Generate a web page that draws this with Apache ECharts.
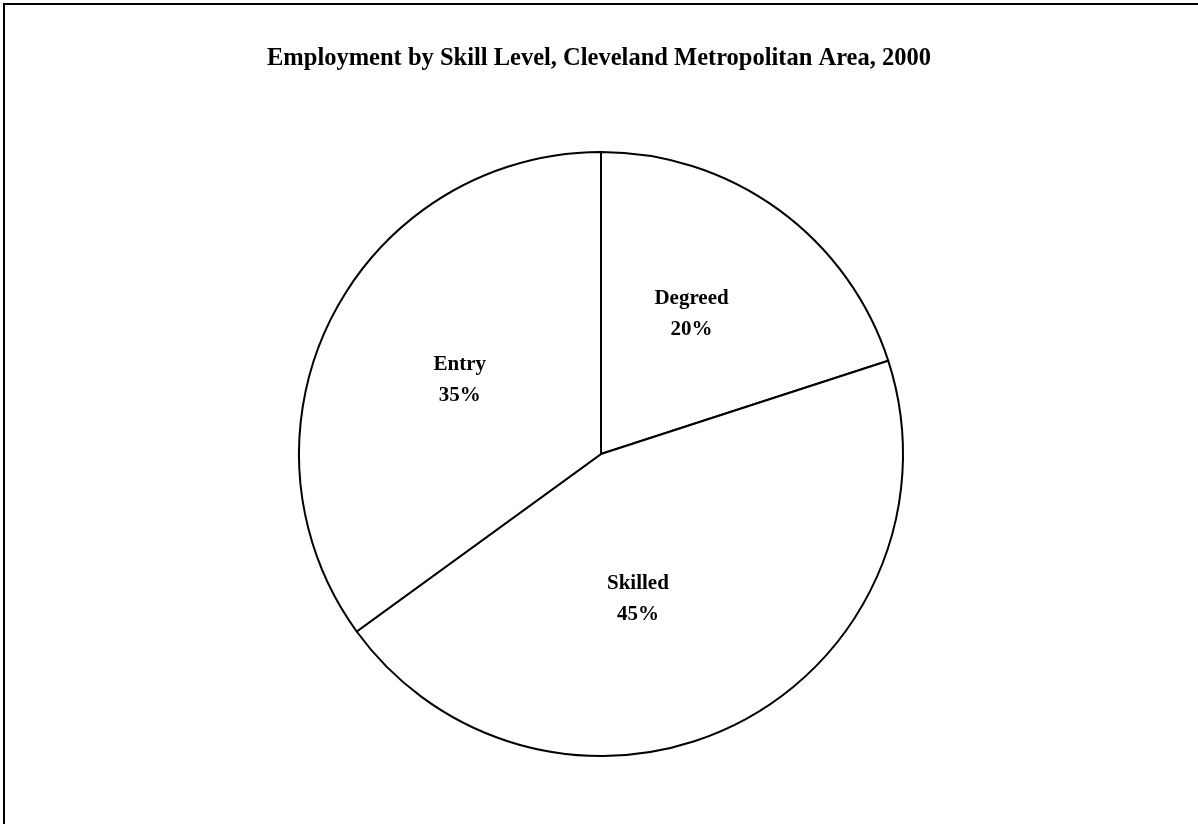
<!DOCTYPE html>
<html>
<head>
<meta charset="utf-8">
<script src="https://cdn.jsdelivr.net/npm/echarts@6/dist/echarts.min.js"></script>
<style>
  html, body { margin: 0; padding: 0; background: #fff; }
  #chart { width: 1198px; height: 824px; }
</style>
</head>
<body>
<div id="chart"></div>
<script>
// Employment shares by skill level
const categories = ['Degreed', 'Skilled', 'Entry'];
const shares = [20, 45, 35];
const titleText = 'Employment by Skill Level, Cleveland Metropolitan Area, 2000';

const serif = '"Liberation Serif", "Times New Roman", Times, serif';

// small nudges for the in-slice labels
const labelNudge = [[0, -15], [-33, 8], [-4, -4]];

const chart = echarts.init(document.getElementById('chart'), null, { renderer: 'canvas' });

chart.setOption({
  animation: false,
  backgroundColor: '#ffffff',
  title: {
    text: titleText,
    left: 'center',
    top: 41,
    textStyle: { fontFamily: serif, fontWeight: 'bold', fontSize: 24.5, color: '#000' }
  },
  graphic: [{
    type: 'rect',
    shape: { x: 4, y: 4, width: 1400, height: 1000 },
    style: { fill: 'none', stroke: '#000', lineWidth: 2 },
    silent: true
  }],
  series: [{
    type: 'pie',
    center: [601, 454],
    radius: [0, 302],
    startAngle: 90,
    clockwise: true,
    avoidLabelOverlap: false,
    itemStyle: { color: '#ffffff', borderColor: '#000', borderWidth: 2 },
    emphasis: { disabled: true },
    label: {
      show: true,
      position: 'inside',
      formatter: p => p.name + '\n' + p.value + '%',
      fontFamily: serif,
      fontWeight: 'bold',
      fontSize: 21,
      lineHeight: 31,
      color: '#000'
    },
    labelLayout: p => ({ dx: labelNudge[p.dataIndex][0], dy: labelNudge[p.dataIndex][1] }),
    labelLine: { show: false },
    data: categories.map((name, i) => ({ name, value: shares[i] }))
  }]
});
</script>
</body>
</html>
